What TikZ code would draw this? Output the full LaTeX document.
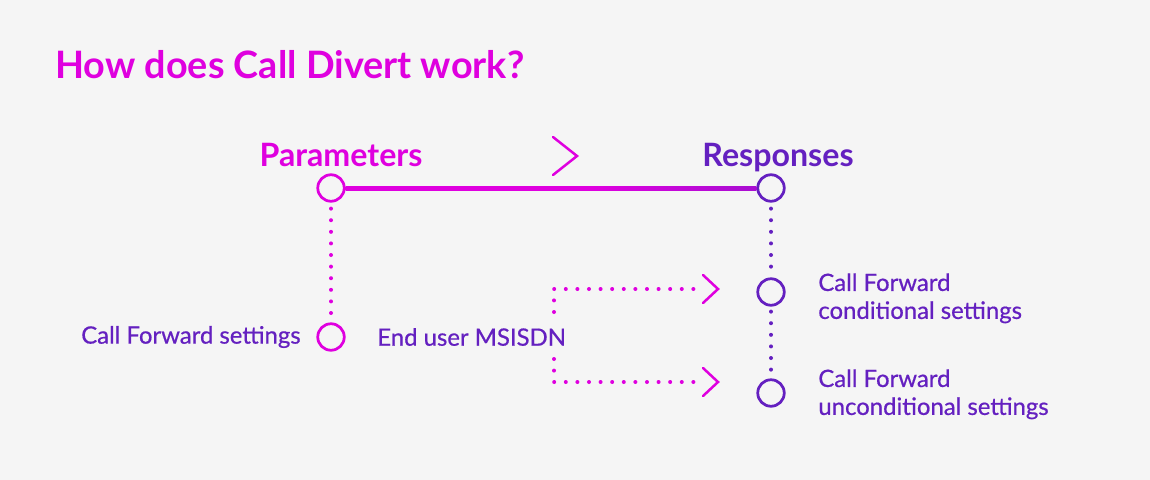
\documentclass[tikz,border=0pt]{standalone}
\usepackage{fontspec}
\setmainfont{Lato}
\newfontfamily\medfont[FakeBold=0.6]{Lato}
\usetikzlibrary{positioning,calc}
\definecolor{cdMag}{HTML}{DF00DF}
\definecolor{cdPur}{HTML}{6420C0}
\definecolor{cdBg}{HTML}{F5F5F5}
\pgfdeclarehorizontalshading{cdline}{100bp}{color(0bp)=(cdMag); color(55bp)=(cdMag); color(100bp)=(cdPur)}

\begin{document}
\begin{tikzpicture}[x=0.02cm,y=-0.02cm,
						stop/.style={draw, circle, line width=0.055cm, fill=cdBg, minimum size=0.53cm, inner sep=0pt},
						head/.style={font=\fontsize{18.3}{22}\selectfont\bfseries, inner sep=0pt},
						lbl/.style={font=\fontsize{13.6}{15.9}\selectfont\medfont, text=cdPur, inner sep=0pt, align=left},
						dots/.style={line width=0.08cm, line cap=round, dash pattern=on 0pt off 0.232cm},
						chev/.style={line width=0.05cm, line cap=round, line join=miter}]
	\useasboundingbox[fill=cdBg] (0,0) rectangle (1150,480);
	\node[font=\fontsize{21.5}{25}\selectfont\bfseries, inner sep=0pt, text=cdMag, anchor=base west] (title) at (55,78) {How does Call Divert work?};

	% main line
	\node[stop, draw=cdMag] (par) at (331,188) {};
	\node[stop, draw=cdPur] (res) at (771,188) {};
	\shade[shading=cdline] ($(par.east)+(0,-2)$) rectangle ($(res.west)+(0,2)$);
	\node[head, text=cdMag, anchor=base] (parlbl) at (341,166) {Parameters};
	\node[head, text=cdPur, anchor=base] (reslbl) at (778,166) {Responses};
	\coordinate (chevtip) at (577,156);
	\draw[chev, cdMag] ($(chevtip)+(-24,-19)$) -- (chevtip) -- ($(chevtip)+(-24,19)$);

	% parameters
	\node[stop, draw=cdMag] (cfs) at (331,337) {};
	\draw[dots, cdMag] ($(par.south)+(0,6)$) -- ($(cfs.north)+(0,-4)$);
	\node[lbl, anchor=east] (cfslbl) at (301,337) {Call Forward settings};
	\node[lbl, anchor=west] (msisdn) at (377,337) {End user MSISDN};

	% responses
	\node[stop, draw=cdPur] (cond) at (771,292) {};
	\node[stop, draw=cdPur] (uncond) at (771,393) {};
	\draw[dots, cdPur] ($(res.south)+(0,6)$) -- ($(cond.north)+(0,-4)$);
	\draw[dots, cdPur] ($(cond.south)+(0,5)$) -- ($(uncond.north)+(0,-4)$);
	\node[lbl, anchor=north west] (condlbl) at (818,273) {Call Forward\\conditional settings};
	\node[lbl, anchor=north west] (uncondlbl) at (818,369) {Call Forward\\unconditional settings};

	% msisdn to responses
	\coordinate (up) at (554,289);
	\coordinate (dn) at (554,382);
	\coordinate (upend) at (718,289);
	\coordinate (dnend) at (718,382);
	\draw[dots, cdMag] (554,312) -- (up) -- (702,289);
	\draw[dots, cdMag] (554,359) -- (dn) -- (702,382);
	\draw[chev, cdMag] ($(upend)+(-15,-14)$) -- (upend) -- ($(upend)+(-15,14)$);
	\draw[chev, cdMag] ($(dnend)+(-15,-14)$) -- (dnend) -- ($(dnend)+(-15,14)$);
\end{tikzpicture}
\end{document}
